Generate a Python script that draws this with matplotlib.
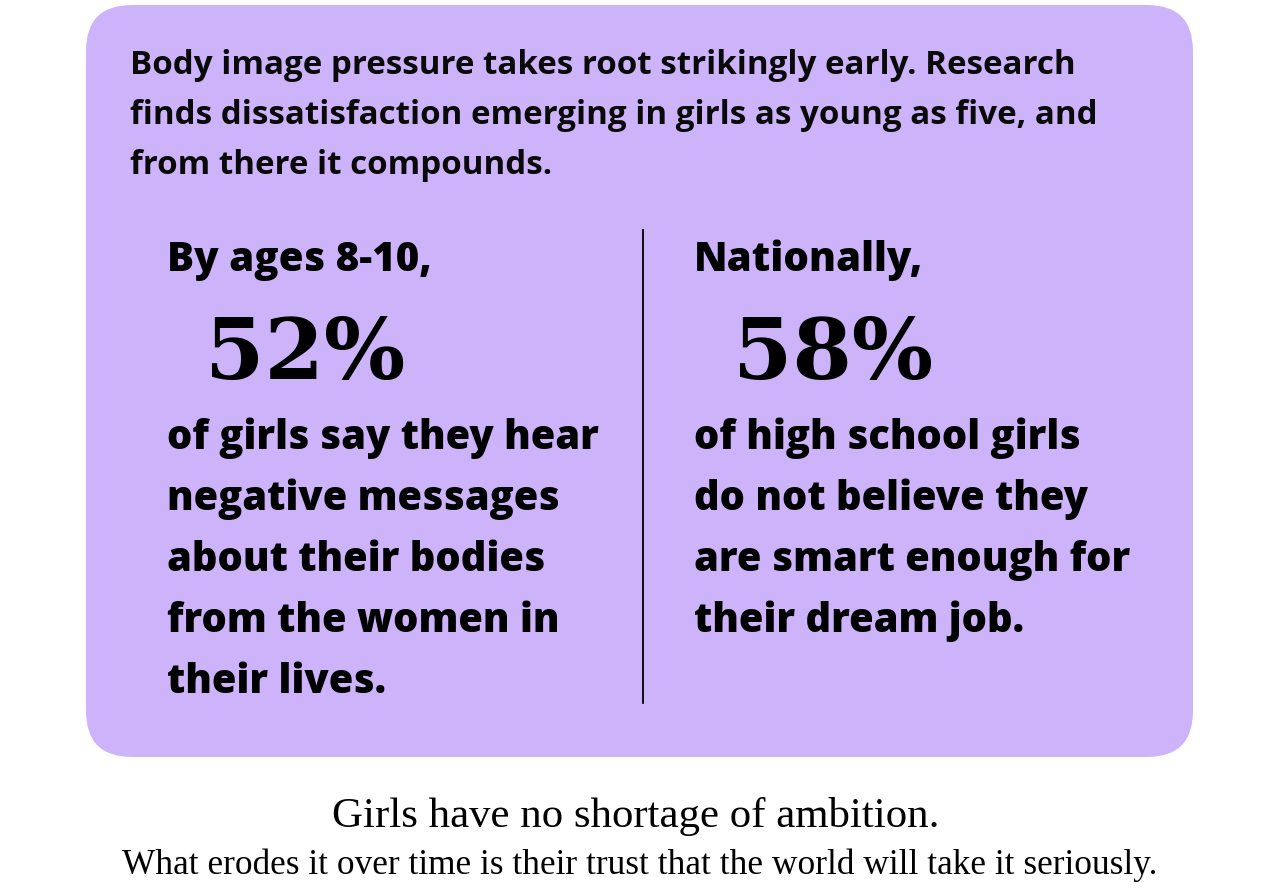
import matplotlib
matplotlib.use("Agg")
import matplotlib.pyplot as plt
from matplotlib.patches import FancyBboxPatch

# text content
intro_lines = [
    "Body image pressure takes root strikingly early. Research",
    "finds dissatisfaction emerging in girls as young as five, and",
    "from there it compounds.",
]
leads = ["By ages 8-10,", "Nationally,"]
stats = ["52%", "58%"]
bodies = [
    ["of girls say they hear", "negative messages", "about their bodies",
     "from the women in", "their lives."],
    ["of high school girls", "do not believe they", "are smart enough for",
     "their dream job."],
]
footer = [
    "Girls have no shortage of ambition.",
    "What erodes it over time is their trust that the world will take it seriously.",
]

W, H = 1280, 891
fig = plt.figure(figsize=(W / 100, H / 100), dpi=100)
ax = fig.add_axes([0, 0, 1, 1])
ax.set_xlim(0, W)
ax.set_ylim(H, 0)
ax.axis("off")
renderer = fig.canvas.get_renderer()

SANS = ["Open Sans", "DejaVu Sans"]
SERIF = ["Liberation Serif", "DejaVu Serif"]
STAT_FONT = ["DejaVu Serif"]


def fit_size(s, width, **kw):
    t = ax.text(0, 0, s, fontsize=10, **kw)
    w = t.get_window_extent(renderer).width
    t.remove()
    return 10 * width / w


box = FancyBboxPatch((86 + 46, 5 + 46), 1107 - 92, 752 - 92,
                     boxstyle="round,pad=46", fc="#cdb4fa", ec="none")
ax.add_patch(box)
ax.plot([643, 643], [230, 703], color="black", lw=1.3)

# intro paragraph
fs = fit_size(intro_lines[1], 968, family=SANS, weight="bold")
for i, line in enumerate(intro_lines):
    ax.text(130, 74 + 50 * i, line, fontsize=fs, family=SANS, weight="bold",
            va="baseline", ha="left", color="#0a0a0a")

col_x = [167, 694]
stat_x = [205, 733]
lead_w = [265, 219]
fs_lead = fit_size(leads[0], lead_w[0], family=SANS, weight="heavy")
fs_stat = fit_size(stats[0], 200, family=STAT_FONT, weight="bold")
fs_body = fit_size(bodies[0][0], 433, family=SANS, weight="heavy")
for c in range(2):
    ax.text(col_x[c], 271, leads[c], fontsize=fs_lead, family=SANS,
            weight="heavy", va="baseline", color="black")
    ax.text(stat_x[c], 379, stats[c], fontsize=fs_stat, family=STAT_FONT,
            weight="bold", va="baseline", color="black")
    for i, line in enumerate(bodies[c]):
        ax.text(col_x[c], 449 + 61 * i, line, fontsize=fs_body, family=SANS,
                weight="heavy", va="baseline", color="black")

# footer
fs_f1 = fit_size(footer[0], 608, family=SERIF)
fs_f2 = fit_size(footer[1], 1035, family=SERIF)
ax.text(636, 827, footer[0], fontsize=fs_f1, family=SERIF, ha="center",
        va="baseline", color="black")
ax.text(640, 874, footer[1], fontsize=fs_f2, family=SERIF, ha="center",
        va="baseline", color="black")

fig.savefig("out.png", dpi=100, facecolor="white")
